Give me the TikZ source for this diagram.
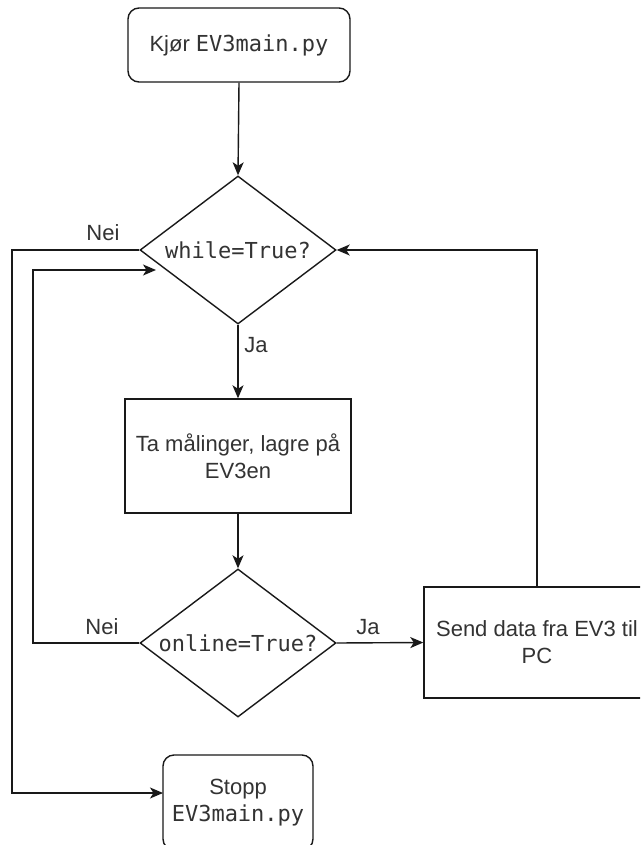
\documentclass[tikz,border=0pt]{standalone}
\usepackage{fontspec}
\setmainfont{Liberation Sans}
\newfontfamily\codefont{DejaVu Sans Mono}
\usetikzlibrary{shapes.geometric,arrows.meta}
\definecolor{txt}{HTML}{333333}
\begin{document}
\begin{tikzpicture}[x=1pt,y=-1pt,
  base/.style={draw=black!90,line width=1.4pt,text=txt,font=\fontsize{22}{27}\selectfont,align=center,inner sep=0pt},
  roundbox/.style={base,rectangle,rounded corners=11pt},
  plainbox/.style={base,rectangle},
  decision/.style={base,diamond,aspect=1.32,minimum width=196pt,minimum height=148pt},
  conn/.style={line width=1.4pt,draw=black!90,-{Stealth[length=13pt,width=11pt,inset=3.5pt]}},
  lbl/.style={text=txt,font=\fontsize{22}{26}\selectfont,inner sep=0pt}]
\useasboundingbox (0,0) rectangle (640,845);
\clip (0,0) rectangle (640,845);
\fill[white] (0,0) rectangle (640,845);

\node[roundbox,minimum width=222pt,minimum height=74pt] (start) at (239,45) {Kjør {\codefont EV3main.py}};
\node[decision] (d1) at (238,250) {{\codefont while=True?}};
\node[plainbox,minimum width=226pt,minimum height=114pt] (meas) at (238,456) {Ta målinger, lagre på\\EV3en};
\node[decision] (d2) at (238,643) {{\codefont online=True?}};
\node[plainbox,minimum width=226pt,minimum height=111pt] (send) at (537,642.5) {Send data fra EV3 til\\PC};
\node[roundbox,minimum width=150pt,minimum height=95pt] (stop) at (238,802.5) {Stopp\\{\codefont EV3main.py}};

\coordinate (inloop) at (156,270);
\coordinate (stopin) at (163,793);

\draw[conn] (start.south) -- (d1.north);
\draw[conn] (d1.south) -- (meas.north);
\draw[conn] (meas.south) -- (d2.north);
\draw[conn] (d2.east) -- (send.west);
\draw[conn] (send.north) |- (d1.east);
\draw[conn] (d2.west) -- (33,643) |- (inloop);
\draw[conn] (d1.west) -- (12,250) |- (stopin);

\node[lbl] (nei1) at (103,233) {Nei};
\node[lbl] (ja1) at (256,345) {Ja};
\node[lbl] (nei2) at (102,627) {Nei};
\node[lbl] (ja2) at (368,627) {Ja};
\end{tikzpicture}
\end{document}
